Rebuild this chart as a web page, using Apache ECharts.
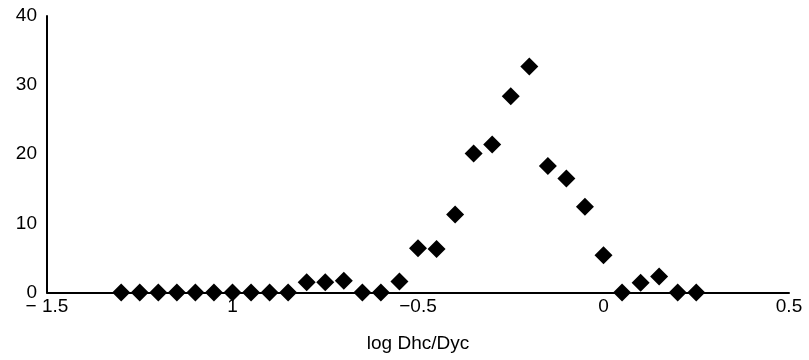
<!DOCTYPE html>
<html>
<head>
<meta charset="utf-8">
<script src="https://cdn.jsdelivr.net/npm/echarts@6/dist/echarts.min.js"></script>
<style>
html,body{margin:0;padding:0;background:#fff;}
#chart{width:809px;height:360px;}
</style>
</head>
<body>
<div id="chart"></div>
<script>
const xValues = [-1.30,-1.25,-1.20,-1.15,-1.10,-1.05,-1.00,-0.95,-0.90,-0.85,-0.80,-0.75,-0.70,-0.65,-0.60,-0.55,-0.50,-0.45,-0.40,-0.35,-0.30,-0.25,-0.20,-0.15,-0.10,-0.05,0.00,0.05,0.10,0.15,0.20,0.25];
const yValues = [0,0,0,0,0,0,0,0,0,0,1.5,1.5,1.7,0,0,1.6,6.4,6.3,11.3,20.1,21.4,28.4,32.7,18.3,16.5,12.4,5.4,0,1.4,2.3,0,0];
const xTickValues = [-1.5,-1,-0.5,0,0.5];
const xTickLabels = ["\u2212 1.5","1","\u22120.5","0","0.5"];
const yTickLabels = ["0","10","20","30","40"];
const xTitle = "log Dhc/Dyc";

const points = xValues.map((x,i)=>[x,yValues[i]]);
const font = "Liberation Sans, Arial, sans-serif";
const chart = echarts.init(document.getElementById('chart'), null, {renderer:'canvas'});
chart.setOption({
  animation:false,
  backgroundColor:'#fff',
  grid:{left:47,right:20,top:16,bottom:67.5,containLabel:false},
  xAxis:{
    type:'value',min:-1.5,max:0.5,interval:0.5,
    name:xTitle,nameLocation:'middle',nameGap:42,
    nameTextStyle:{color:'#000',fontSize:19,fontFamily:font},
    axisLine:{onZero:false,lineStyle:{color:'#000',width:2}},
    axisTick:{show:false},
    splitLine:{show:false},
    axisLabel:{color:'#000',fontSize:19,fontFamily:font,margin:5,
      formatter:(v)=>{const i=xTickValues.findIndex(t=>Math.abs(t-v)<1e-9);return i>=0?xTickLabels[i]:'';}}
  },
  yAxis:{
    type:'value',min:0,max:40,interval:10,
    axisLine:{show:true,onZero:false,lineStyle:{color:'#000',width:2}},
    axisTick:{show:false},
    splitLine:{show:false},
    axisLabel:{color:'#000',fontSize:19,fontFamily:font,margin:10,
      formatter:(v)=>yTickLabels[Math.round(v/10)]}
  },
  series:[{
    type:'scatter',
    data:points,
    symbol:'diamond',
    symbolSize:[18,18],
    itemStyle:{color:'#000',opacity:1},
    z:3
  }]
});
</script>
</body>
</html>
